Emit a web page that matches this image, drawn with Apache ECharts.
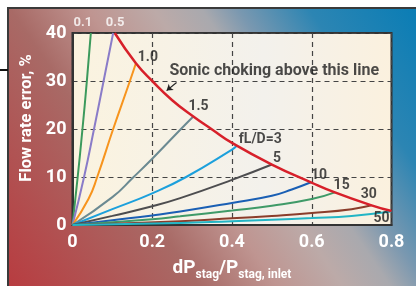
<!DOCTYPE html>
<html>
<head>
<meta charset="utf-8">
<script src="https://cdn.jsdelivr.net/npm/echarts@6/dist/echarts.min.js"></script>
<style>
html,body{margin:0;padding:0;background:#fff;}
#chart{width:416px;height:286px;}
</style>
</head>
<body>
<div id="chart"></div>
<script>
// ---- data ----
const xTicks = [0, 0.2, 0.4, 0.6, 0.8];
const yTicks = [0, 10, 20, 30, 40];
const curveNames = ['0.1', '0.5', '1.0', '1.5', '3', '5', '10', '15', '30', '50'];
const c0_1 = [[0,0],[0.013,10],[0.025,20],[0.036,30],[0.046,40]];
const c0_5 = [[0,0],[0.029,10],[0.054,20],[0.078,30],[0.102,40]];
const c1_0 = [[0,0],[0.04,5.4],[0.062,10],[0.102,20],[0.144,30],[0.159,33.7]];
const c1_5 = [[0,0],[0.10,5.8],[0.152,9.9],[0.2,13.8],[0.272,20],[0.303,22.6]];
const c3 = [[0,0],[0.1,3.3],[0.2,6.6],[0.285,10],[0.4,15.7],[0.412,16.5]];
const c5 = [[0,0],[0.1,1.9],[0.2,3.9],[0.27,5.6],[0.4,9.4],[0.5,12.6]];
const c10 = [[0,0],[0.1,1.0],[0.2,2.0],[0.27,2.8],[0.4,4.6],[0.5,6.1],[0.55,7.4],[0.598,8.9]];
const c15 = [[0,0],[0.2,1.2],[0.27,1.8],[0.4,3.0],[0.5,4.0],[0.6,5.4],[0.658,6.8]];
const c30 = [[0,0],[0.27,0.8],[0.4,1.4],[0.5,1.9],[0.6,2.5],[0.7,3.3],[0.75,4.1]];
const c50 = [[0,0],[0.27,0.4],[0.4,0.8],[0.5,1.1],[0.6,1.45],[0.7,1.9],[0.8,2.8]];
const sonic = [[0.106,40],[0.159,33.7],[0.2,30],[0.25,26.0],[0.303,22.6],[0.35,19.9],[0.4,17.1],[0.5,12.6],[0.598,8.9],[0.658,6.8],[0.75,4.1],[0.8,2.9]];
// curve labels: [x, y, text]
const darkLabels = [[0.189,35.0,'1.0'],[0.316,24.6,'1.5'],[0.471,17.8,'fL/D=3'],[0.513,13.9,'5'],[0.618,10.4,'10'],[0.675,8.2,'15'],[0.743,6.3,'30'],[0.775,1.4,'50']];
const whiteLabels = [[0.026,42.1,'0.1'],[0.107,42.1,'0.5']];
const sonicNote = [[0.506,32.0,'Sonic choking above this line']];
const sonicArrow = [[0.261,29.7],[0.236,28.0]];

const curves = [c0_1, c0_5, c1_0, c1_5, c3, c5, c10, c15, c30, c50];
const colors = ['#3c9a5c','#8a7cc8','#f7941d','#6b8a92','#1ca0dc','#4d4d4f','#1a5fb4','#3f9a68','#8b3d2b','#22b5c5'];
const FONT = "Roboto, 'Liberation Sans', sans-serif";

const chart = echarts.init(document.getElementById('chart'), null, {renderer:'canvas'});

const series = curves.map((d, i) => ({
  name: curveNames[i], type: 'line', data: d, smooth: 0.5, showSymbol: false, symbol: 'none',
  lineStyle: {color: colors[i], width: 2}, z: 3, silent: true, clip: false
}));
series.push({
  name: 'sonic', type: 'line', data: sonic, smooth: 0.5, showSymbol: false, symbol: 'none',
  lineStyle: {color: '#d7202a', width: 2.5}, z: 4, silent: true,
  markLine: {
    silent: true, symbol: ['none', 'arrow'], symbolSize: 6,
    lineStyle: {color: '#222', width: 1.2, type: 'solid'},
    label: {show: false},
    data: [[{coord: sonicArrow[0]}, {coord: sonicArrow[1]}]]
  }
});
function labelSeries(arr, color, size) {
  return {
    type: 'scatter', symbolSize: 0, silent: true, clip: false, z: 6,
    data: arr.map(a => ({value: [a[0], a[1]], name: a[2]})),
    label: {show: true, position: 'inside', formatter: p => p.name, color: color,
      fontFamily: FONT, fontWeight: 'bold', fontSize: size, align: 'center', verticalAlign: 'middle'}
  };
}
series.push(labelSeries(darkLabels, '#1e1e1e', 14));
series.push(labelSeries(whiteLabels, '#ffffff', 13));
series.push(labelSeries(sonicNote, '#1e1e1e', 16));

const option = {
  animation: false,
  graphic: [
    {type: 'rect', z: -10, shape: {x: 8, y: 8, width: 420, height: 290},
      style: {fill: new echarts.graphic.LinearGradient(8, 286, 416, 8, [
        {offset: 0, color: '#b83c40'}, {offset: 0.32, color: '#a86a66'},
        {offset: 0.45, color: '#bf9591'}, {offset: 0.56, color: '#bcaaa8'},
        {offset: 0.64, color: '#a9a9ae'}, {offset: 0.7, color: '#7a98b0'},
        {offset: 0.82, color: '#2c85b3'}, {offset: 1, color: '#0a7db5'}], true),
        stroke: '#3a3a3a', lineWidth: 2}},
    {type: 'line', z: -8, shape: {x1: 0, y1: 70, x2: 8, y2: 70}, style: {stroke: '#111', lineWidth: 2}}
  ],
  grid: {left: 72.5, top: 33, right: 24.5, bottom: 60, show: true,
    backgroundColor: new echarts.graphic.LinearGradient(0, 0, 1, 0, [
      {offset: 0, color: '#fbf3df'}, {offset: 0.6, color: '#f3f1ec'}, {offset: 1, color: '#fbf1de'}]),
    borderColor: '#333', borderWidth: 2},
  xAxis: {type: 'value', min: xTicks[0], max: xTicks[xTicks.length-1], interval: 0.2,
    axisLine: {show: true, lineStyle: {color: '#333', width: 2}}, axisTick: {show: false},
    axisLabel: {color: '#fff', fontFamily: FONT, fontWeight: 'bold', fontSize: 18, margin: 8,
      formatter: v => String(v)},
    splitLine: {show: true, lineStyle: {color: '#444', width: 1.2, type: [5, 4]}},
    name: '{a|dP}{b|stag}{a|/P}{b|stag, inlet}', nameLocation: 'middle', nameGap: 34,
    nameTextStyle: {rich: {
      a: {color: '#fff', fontFamily: FONT, fontWeight: 'bold', fontSize: 19, verticalAlign: 'top', lineHeight: 20},
      b: {color: '#fff', fontFamily: FONT, fontWeight: 'bold', fontSize: 12, verticalAlign: 'top', lineHeight: 14, padding: [10, 0, 0, 0]}
    }}},
  yAxis: {type: 'value', min: yTicks[0], max: yTicks[yTicks.length-1], interval: 10,
    axisLine: {show: true, lineStyle: {color: '#333', width: 2}}, axisTick: {show: false},
    axisLabel: {color: '#fff', fontFamily: FONT, fontWeight: 'bold', fontSize: 18, margin: 6},
    splitLine: {show: true, lineStyle: {color: '#444', width: 1.2, type: [5, 4]}},
    name: 'Flow rate error, %', nameLocation: 'middle', nameGap: 33,
    nameTextStyle: {color: '#fff', fontFamily: FONT, fontWeight: 'bold', fontSize: 16.5, padding: [0, 0, 0, 22]}},
  series: series
};
chart.setOption(option);
</script>
</body>
</html>
